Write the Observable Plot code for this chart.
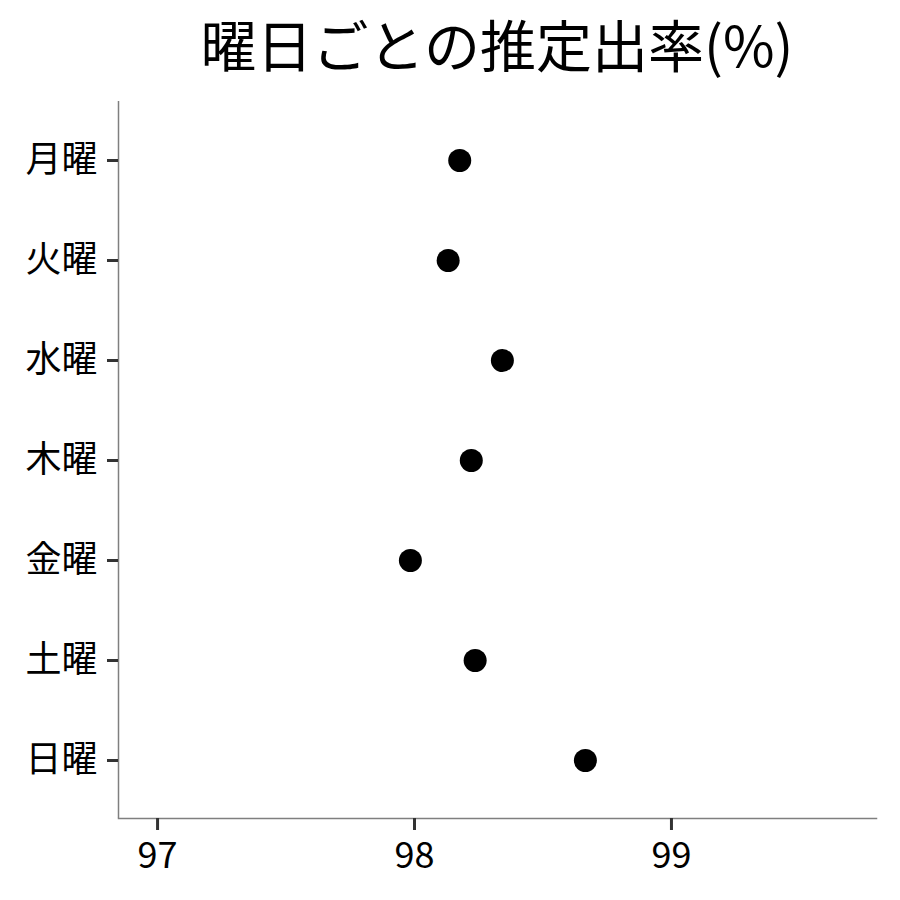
<!DOCTYPE html>
<html>
<head>
<meta charset="utf-8">
<script src="https://cdn.jsdelivr.net/npm/d3@7"></script>
<script src="https://cdn.jsdelivr.net/npm/@observablehq/plot@0.6"></script>
<style>
  body { margin: 0; background: #fff; }
  #wrap { position: relative; width: 900px; height: 900px; font-family: "Noto Sans CJK JP", "Noto Sans", sans-serif; }
  #title { position: absolute; left: 118px; width: 758px; top: 15px; text-align: center; font-size: 56px; line-height: 1; color: #000; white-space: nowrap; }
  #chart { position: absolute; left: 0; top: 0; }
  #chart g[aria-label="x-axis tick"], #chart g[aria-label="y-axis tick"] { stroke-width: 3px !important; stroke: #333 !important; }
  #chart g[aria-label="x-axis tick"] path, #chart g[aria-label="y-axis tick"] path { stroke-width: 3px !important; stroke: #333 !important; }
</style>
</head>
<body>
<div id="wrap">
  <div id="chart"></div>
  <div id="title">曜日ごとの推定出率(%)</div>
</div>
<script>
const days = ["月曜", "火曜", "水曜", "木曜", "金曜", "土曜", "日曜"];
const rates = [98.176, 98.131, 98.342, 98.221, 97.984, 98.236, 98.665];
const xTicks = [97, 98, 99];
const xDomain = [96.848, 99.798];

const data = days.map((d, i) => ({day: d, rate: rates[i]}));

const chart = Plot.plot({
  width: 900,
  height: 900,
  marginTop: 101,
  marginBottom: 82,
  marginLeft: 118,
  marginRight: 24,
  style: {fontFamily: '"Noto Sans CJK JP", "Noto Sans", sans-serif', fontSize: "36px", color: "#000", background: "#fff"},
  x: {domain: xDomain, ticks: xTicks},
  y: {type: "point", domain: days, padding: 0.585},
  marks: [
    Plot.ruleX([xDomain[0]], {stroke: "#7f7f7f", strokeWidth: 1.5}),
    Plot.frame({anchor: "bottom", stroke: "#7f7f7f", strokeWidth: 1.5}),
    Plot.axisX({ticks: xTicks, tickSize: 12, tickPadding: 12, stroke: "#333", strokeWidth: 3, fill: "#000", label: null, tickFormat: d => String(d)}),
    Plot.axisY({tickSize: 11, tickPadding: 10, stroke: "#333", strokeWidth: 3, fill: "#000", label: null}),
    Plot.dot(data, {x: "rate", y: "day", r: 11.5, fill: "#000", stroke: null})
  ]
});
document.getElementById("chart").appendChild(chart);
</script>
</body>
</html>
